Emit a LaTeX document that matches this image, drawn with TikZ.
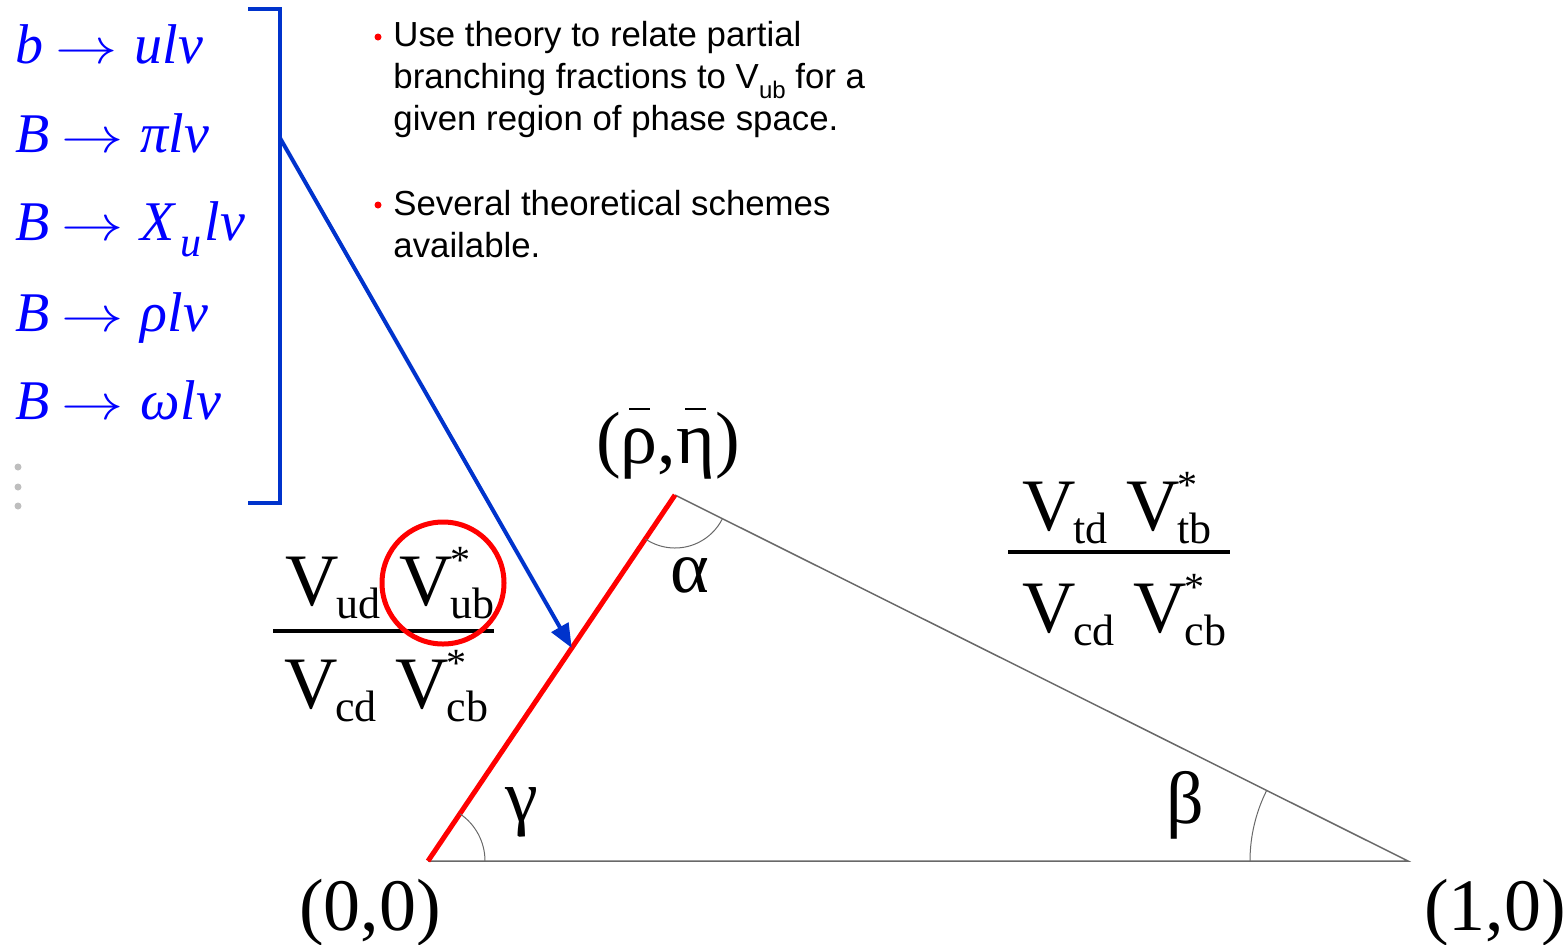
\documentclass[tikz,border=0pt]{standalone}
\usepackage{fontspec}
\newfontfamily\tnr{Liberation Serif}
\newfontfamily\arialf{Liberation Sans}
\usetikzlibrary{positioning,calc,angles,arrows.meta}
\definecolor{bracketblue}{RGB}{0,51,204}
\definecolor{linegray}{RGB}{105,105,105}
\definecolor{dotgray}{RGB}{190,190,190}

% CKM element: V with subscript and (optional) star
\newcommand{\Vel}[2]{V\kern-0.03em\rlap{\raisebox{0.42em}{\fontsize{20}{20}\selectfont#2}}\raisebox{-0.18em}{\fontsize{22}{22}\selectfont#1}}
% short bar over a symbol
\newcommand{\topbar}[1]{\setbox0\hbox{#1}\rlap{\hbox to \wd0{\hss\rule[0.72em]{0.55\wd0}{1pt}\hss}}\box0}
% decay arrow
\newcommand{\dto}{\hspace{0.22em}\scalebox{1.25}[1]{$\rightarrow$}\hspace{0.3em}}

\begin{document}
\begin{tikzpicture}[x=0.5pt,y=-0.5pt,
    decay/.style={text=blue,font=\tnr\itshape\fontsize{28}{28}\selectfont,anchor=base west,inner sep=0pt},
    bullettext/.style={font=\arialf\fontsize{17.4}{21}\selectfont,align=left,anchor=base west,inner sep=0pt},
    big/.style={font=\tnr\fontsize{37}{37}\selectfont,inner sep=0pt},
    side/.style={linegray,line width=0.75pt},
    fracbar/.style={line width=2pt},
    anglearc/.style={draw=linegray,line width=0.5pt}]
    \useasboundingbox (0,0) rectangle (1568,944);

    % Semileptonic decays
    \foreach \y/\lbl [count=\i] in {63/{b\dto ulν},152/{B\dto πlν},240/{B\dto X\kern0.1em\raisebox{-0.3em}{\fontsize{21}{21}\selectfont u}\kern0.05em lν},331/{B\dto ρlν},419/{B\dto ωlν}} {
        \node[decay] (dec\i) at (15,\y) {\lbl};
    }
    \foreach \y in {467,487,506} {
        \fill[dotgray] (18,\y) circle (1.75pt);
    }
    % Bracket around the decays
    \coordinate (brTL) at (248,9);
    \coordinate (brTR) at (280,9);
    \coordinate (brBR) at (280,503);
    \coordinate (brBL) at (248,503);
    \coordinate (brOut) at (280,138);
    \draw[bracketblue, line width=2pt] (brTL) -- (brTR) -- (brBR) -- (brBL);

    % Bullet points (base = last line)
    \fill[red] (378,37) circle (1.75pt);
    \node[bullettext] (pt1) at (393,130) {Use theory to relate partial\\branching fractions to V\raisebox{-0.3em}{\fontsize{12}{12}\selectfont ub} for a\\given region of phase space.};
    \fill[red] (378,205) circle (1.75pt);
    \node[bullettext] (pt2) at (393,257) {Several theoretical schemes\\available.};

    % Unitarity triangle
    \coordinate (origin) at (428,861);
    \coordinate (apex) at (675,495);
    \coordinate (unit) at (1408,861);
    \coordinate (hit) at ($(origin)!0.582!(apex)$);
    \draw[side] (origin) -- (unit) -- (apex);
    \draw[red, line width=2.5pt] (origin) -- (apex);
    \pic[anglearc, angle radius=28.5pt] {angle=unit--origin--apex};
    \pic[anglearc, angle radius=26.5pt] {angle=origin--apex--unit};
    \pic[anglearc, angle radius=79pt] {angle=apex--unit--origin};
    \draw[bracketblue, line width=2pt, -{Triangle[length=12pt,width=9.5pt]}] (brOut) -- (hit);

    % Labels
    \node[big, anchor=base] (lblApex) at (668,463) {(\topbar{ρ},\topbar{η})};
    \node[big, anchor=base] (lblOrigin) at (370,930) {(0,0)};
    \node[big, anchor=base] (lblUnit) at (1495,930) {(1,0)};
    \node[big] (alpha) at (690,575) {α};
    \node[big] (gamma) at (522,812) {γ};
    \node[big] (beta) at (1185,805) {β};

    % Side ratios
    \node[big, anchor=base] (numL) at (390,605) {\Vel{ud}{} \Vel{ub}{*}};
    \node[big, anchor=base] (denL) at (386,708) {\Vel{cd}{} \Vel{cb}{*}};
    \draw[fracbar] (273,631) -- (494,631);
    \node[circle, draw=red, line width=2.5pt, minimum size=61pt, inner sep=0pt] (ring) at (443,583) {};
    \node[big, anchor=base] (numR) at (1117,530) {\Vel{td}{} \Vel{tb}{*}};
    \node[big, anchor=base] (denR) at (1124,632) {\Vel{cd}{} \Vel{cb}{*}};
    \draw[fracbar] (1008,552) -- (1230,552);
\end{tikzpicture}
\end{document}
